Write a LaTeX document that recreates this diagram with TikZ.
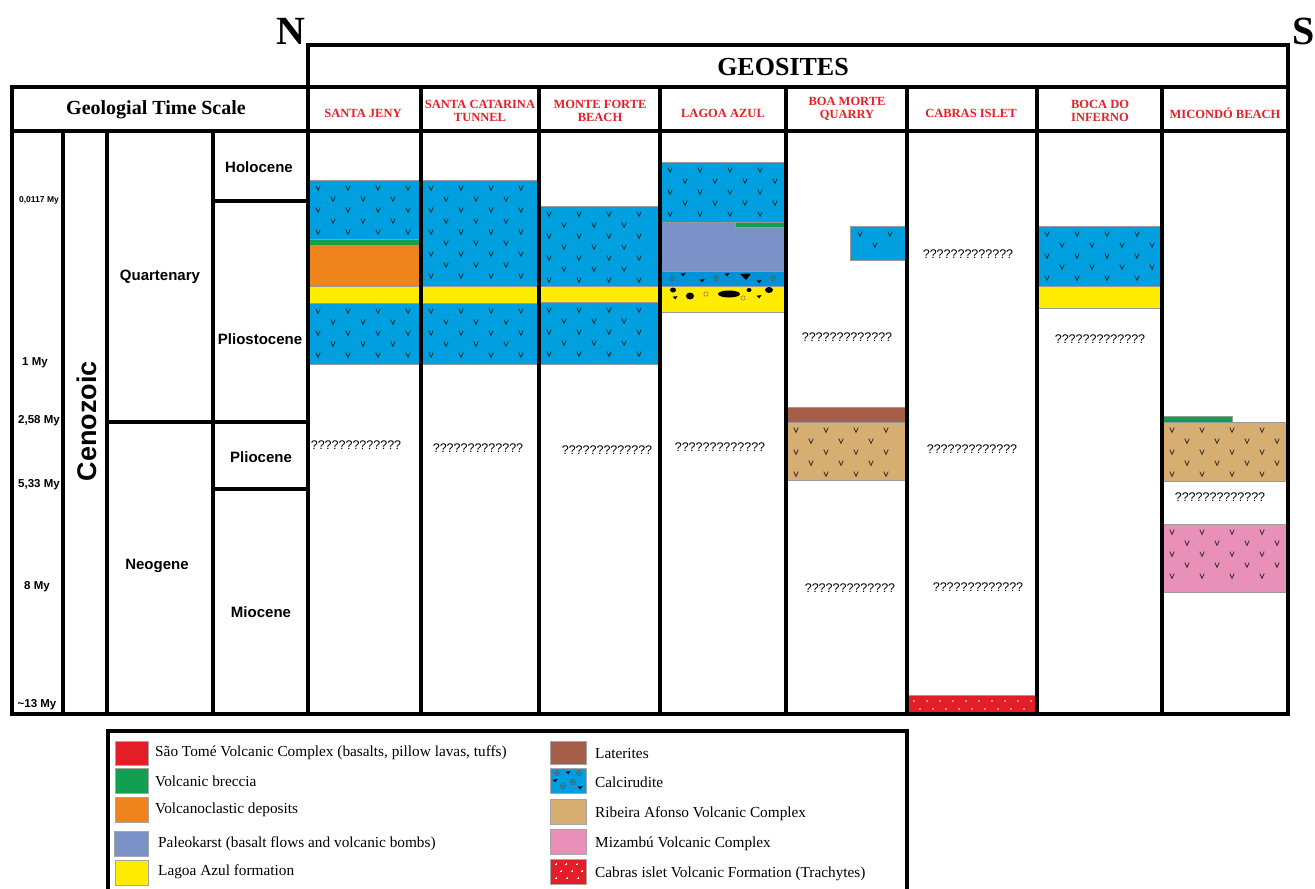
\documentclass[tikz,border=0pt]{standalone}
\usepackage{fontspec}
\setmainfont{Liberation Serif}
\setsansfont{Liberation Sans}
\definecolor{cblue}{RGB}{0,160,224}
\definecolor{cyel}{RGB}{255,236,0}
\definecolor{corange}{RGB}{240,132,28}
\definecolor{cgreen}{RGB}{16,160,80}
\definecolor{cpaleo}{RGB}{122,146,200}
\definecolor{cbrown}{RGB}{166,94,72}
\definecolor{ctan}{RGB}{214,174,114}
\definecolor{cpink}{RGB}{232,144,184}
\definecolor{cred}{RGB}{228,30,40}
\definecolor{cname}{RGB}{232,30,40}
\definecolor{ccalc}{RGB}{0,146,216}
% v-pattern: x1 y1 x2 y2
\newcommand\vmarksgeo[4]{%
  \pgfmathtruncatemacro\vnr{(#4-#2-14)/11}%
  \foreach \j in {0,...,\vnr}{%
    \pgfmathtruncatemacro\vnc{(#3-#1-18-15*mod(\j,2))/30}%
    \foreach \i in {0,...,\vnc}{%
      \pgfmathsetmacro\vx{#1+10+30*\i+15*mod(\j,2)}%
      \pgfmathsetmacro\vy{#2+8+11*\j}%
      \draw[vst] (\vx-2.2,\vy-2.4) -- (\vx,\vy+2.4) -- (\vx+2.2,\vy-2.4);
    }%
  }%
}
% layer with v marks: x1 y1 x2 y2 colour
\newcommand\vlayergeo[5]{%
  \fill[#5] (#1,#2) rectangle (#3,#4);
  \draw[edge] (#1,#2) rectangle (#3,#4);
  \vmarksgeo{#1}{#2}{#3}{#4}%
}
\newcommand\plainlayergeo[5]{%
  \fill[#5] (#1,#2) rectangle (#3,#4);
  \draw[edge] (#1,#2) rectangle (#3,#4);
}
\newcommand\spiralgeo[2]{%
  \draw[spst] (#1,#2) circle (2.6);
  \draw[spst] (#1,#2) circle (1.1);
}
\newcommand\trigeo[2]{%
  \fill[black] (#1-2.5,#2-1.3) -- (#1+2.5,#2-1.9) -- (#1+0.3,#2+1.3) -- cycle;
}
\begin{document}
\begin{tikzpicture}[x=1pt,y=-1pt,
  grid/.style={line width=4.5pt, line cap=rect},
  edge/.style={draw=black!40, line width=0.6pt},
  vst/.style={draw=black!85, line width=0.75pt},
  spst/.style={draw=black!65, line width=0.5pt},
  qm/.style={font=\sffamily\fontsize{12.5}{14}\selectfont, inner sep=0pt},
  tlabel/.style={font=\sffamily\bfseries\fontsize{15}{17}\selectfont, inner sep=0pt},
  age/.style={font=\sffamily\bfseries\fontsize{11.5}{13}\selectfont, inner sep=0pt},
  site/.style={font=\bfseries\fontsize{12.5}{13.5}\selectfont, text=cname, align=center, inner sep=0pt},
  legtext/.style={font=\fontsize{15.3}{17}\selectfont, anchor=west, inner sep=0pt},
  swatch/.style={draw=black!35, line width=0.6pt}
]
\useasboundingbox (0,0) rectangle (1315,889);
\clip (0,0) rectangle (1315,889);
\fill[white] (0,0) rectangle (1315,889);

% ---------------- layers ----------------
% Santa Jeny
\vlayergeo{308}{180}{421}{239}{cblue}
\plainlayergeo{308}{239}{421}{245}{cgreen}
\plainlayergeo{308}{245}{421}{286}{corange}
\plainlayergeo{308}{286}{421}{303}{cyel}
\vlayergeo{308}{303}{421}{364}{cblue}
% Santa Catarina
\vlayergeo{421}{180}{539}{286}{cblue}
\plainlayergeo{421}{286}{539}{303}{cyel}
\vlayergeo{421}{303}{539}{364}{cblue}
% Monte Forte
\vlayergeo{539}{206}{660}{286}{cblue}
\plainlayergeo{539}{286}{660}{302}{cyel}
\vlayergeo{539}{302}{660}{364}{cblue}
% Lagoa Azul
\vlayergeo{660}{162}{786}{222}{cblue}
\plainlayergeo{660}{222}{786}{271}{cpaleo}
\plainlayergeo{735}{222}{786}{227}{cgreen}
\plainlayergeo{660}{271}{786}{286}{ccalc}
\plainlayergeo{660}{286}{786}{312}{cyel}
\spiralgeo{672}{278}\spiralgeo{716}{278}\spiralgeo{773}{278}
\trigeo{683}{275}\trigeo{702}{281}\trigeo{727}{275}\trigeo{759}{282}
\fill[black] (740,274) -- (751,273.5) -- (746,280) -- cycle;
\draw[black, line width=0.5pt] (742,275.5) -- (746,279);
\fill[black] (673,290) ellipse (3 and 2.5);
\fill[black] (690,296) ellipse (4 and 3.5);
\fill[black] (729,294) ellipse (11 and 3.5);
\fill[black] (749,290) ellipse (2.5 and 2);
\fill[black] (769,290) ellipse (4 and 3);
\draw[draw=black!55, line width=0.5pt] (706,294) circle (2.2) (743,298) circle (2.2);
\trigeo{675}{298}\trigeo{759}{297}
% Boa Morte
\vlayergeo{850}{226}{907}{260}{cblue}
\plainlayergeo{786}{407}{907}{422}{cbrown}
\vlayergeo{786}{422}{907}{480}{ctan}
% Cabras islet
\plainlayergeo{907}{695}{1037}{714}{cred}
\foreach \k in {0,...,9}{\fill[white] ({914+13*\k},701) circle (0.9);}
\foreach \k in {0,...,8}{\fill[white] ({920+13*\k},709) circle (0.9);}
% Boca do Inferno
\vlayergeo{1037}{226}{1162}{286}{cblue}
\plainlayergeo{1037}{286}{1162}{308}{cyel}
% Micondo
\plainlayergeo{1162}{416}{1232}{422}{cgreen}
\vlayergeo{1162}{422}{1288}{481}{ctan}
\vlayergeo{1162}{524}{1288}{592}{cpink}

% ---------------- grid ----------------
\draw[grid] (12,87) -- (1288,87);
\draw[grid] (308,87) -- (308,45) -- (1288,45) -- (1288,714);
\draw[grid] (12,131) -- (1288,131);
\draw[grid] (12,87) -- (12,714) -- (1288,714);
\foreach \gx in {63,107,213}{\draw[grid] (\gx,131) -- (\gx,714);}
\draw[grid] (308,87) -- (308,714);
\foreach \gx in {421,539,660,786,907,1037,1162}{\draw[grid] (\gx,87) -- (\gx,714);}
\draw[grid] (213,201) -- (308,201);
\draw[grid] (107,422) -- (308,422);
\draw[grid] (213,489) -- (308,489);

% ---------------- texts ----------------
\node[font=\bfseries\fontsize{40}{40}\selectfont, inner sep=0pt] (north) at (291,31) {N};
\node[font=\bfseries\fontsize{40}{40}\selectfont, inner sep=0pt] (south) at (1304,31) {S};
\node[font=\bfseries\fontsize{26}{26}\selectfont, inner sep=0pt] (geosites) at (783,67) {GEOSITES};
\node[font=\bfseries\fontsize{20}{20}\selectfont, inner sep=0pt] (gts) at (156,110) {Geologial Time Scale};

\node[site] (s1) at (363,113) {SANTA JENY};
\node[site] (s2) at (480,111) {SANTA CATARINA\\TUNNEL};
\node[site] (s3) at (600,111) {MONTE FORTE\\BEACH};
\node[site] (s4) at (723,113) {LAGOA AZUL};
\node[site] (s5) at (847,109) {BOA MORTE\\QUARRY};
\node[site] (s6) at (971,113) {CABRAS ISLET};
\node[site] (s7) at (1100,111) {BOCA DO\\INFERNO};
\node[site] (s8) at (1225,113) {MICONDÓ BEACH};

\node[age, font=\sffamily\bfseries\fontsize{8.5}{10}\selectfont] (a1) at (39,200) {0,0117 My};
\node[age] (a2) at (35,363) {1 My};
\node[age] (a3) at (39,421) {2,58 My};
\node[age] (a4) at (39,485) {5,33 My};
\node[age] (a5) at (37,587) {8 My};
\node[age] (a6) at (37,705) {\textasciitilde13 My};

\node[font=\sffamily\bfseries\fontsize{27}{27}\selectfont, rotate=90, inner sep=0pt] (ceno) at (87,421) {Cenozoic};
\node[tlabel] (quat) at (160,277) {Quartenary};
\node[tlabel] (neog) at (157,566) {Neogene};
\node[tlabel] (holo) at (259,167) {Holocene};
\node[tlabel] (plst) at (260,339) {Pliostocene};
\node[tlabel] (plio) at (261,457) {Pliocene};
\node[tlabel] (mioc) at (261,612) {Miocene};

\node[qm] (q1) at (356,445) {?????????????};
\node[qm] (q2) at (478,448) {?????????????};
\node[qm] (q3) at (607,450) {?????????????};
\node[qm] (q4) at (720,447) {?????????????};
\node[qm] (q5) at (847,337) {?????????????};
\node[qm] (q6) at (850,588) {?????????????};
\node[qm] (q7) at (968,254) {?????????????};
\node[qm] (q8) at (972,449) {?????????????};
\node[qm] (q9) at (978,587) {?????????????};
\node[qm] (q10) at (1100,339) {?????????????};
\node[qm] (q11) at (1220,497) {?????????????};

% ---------------- legend ----------------
\draw[line width=4.5pt] (108,731) rectangle (907,905);
% left column swatches
\filldraw[swatch, fill=cred] (115,741) rectangle (148,765);
\filldraw[swatch, fill=cgreen] (115,768) rectangle (148,793);
\filldraw[swatch, fill=corange] (115,797) rectangle (148,822);
\filldraw[swatch, fill=cpaleo] (114,831) rectangle (148,856);
\filldraw[swatch, fill=cyel] (115,860) rectangle (148,885);
\node[legtext] (l1) at (155,753) {São Tomé Volcanic Complex (basalts, pillow lavas, tuffs)};
\node[legtext] (l2) at (155,781) {Volcanic breccia};
\node[legtext] (l3) at (155,810) {Volcanoclastic deposits};
\node[legtext] (l4) at (158,844) {Paleokarst (basalt flows and volcanic bombs)};
\node[legtext] (l5) at (158,872) {Lagoa Azul formation};
% right column swatches
\filldraw[swatch, fill=cbrown] (550,741) rectangle (586,764);
\filldraw[swatch, fill=cblue] (550,768) rectangle (586,793);
\spiralgeo{557}{773}\spiralgeo{579}{773}\spiralgeo{563}{786}\spiralgeo{573}{782}
\trigeo{568}{773}\trigeo{555}{781}\trigeo{580}{788}
\filldraw[swatch, fill=ctan] (550,799) rectangle (586,824);
\filldraw[swatch, fill=cpink] (550,829) rectangle (586,854);
\filldraw[swatch, fill=cred] (550,859) rectangle (586,884);
\foreach \px/\py in {556/864,566/864,577/864,561/871,572/871,582/871,556/878,567/878,578/878}{
  \draw[white, line width=0.4pt] (\px-0.9,\py) -- (\px+0.9,\py) (\px,\py-0.9) -- (\px,\py+0.9);}
\node[legtext] (r1) at (595,754) {Laterites};
\node[legtext] (r2) at (595,782) {Calcirudite};
\node[legtext] (r3) at (595,814) {Ribeira Afonso Volcanic Complex};
\node[legtext] (r4) at (595,844) {Mizambú Volcanic Complex};
\node[legtext] (r5) at (595,874) {Cabras islet Volcanic Formation (Trachytes)};
\end{tikzpicture}
\end{document}
